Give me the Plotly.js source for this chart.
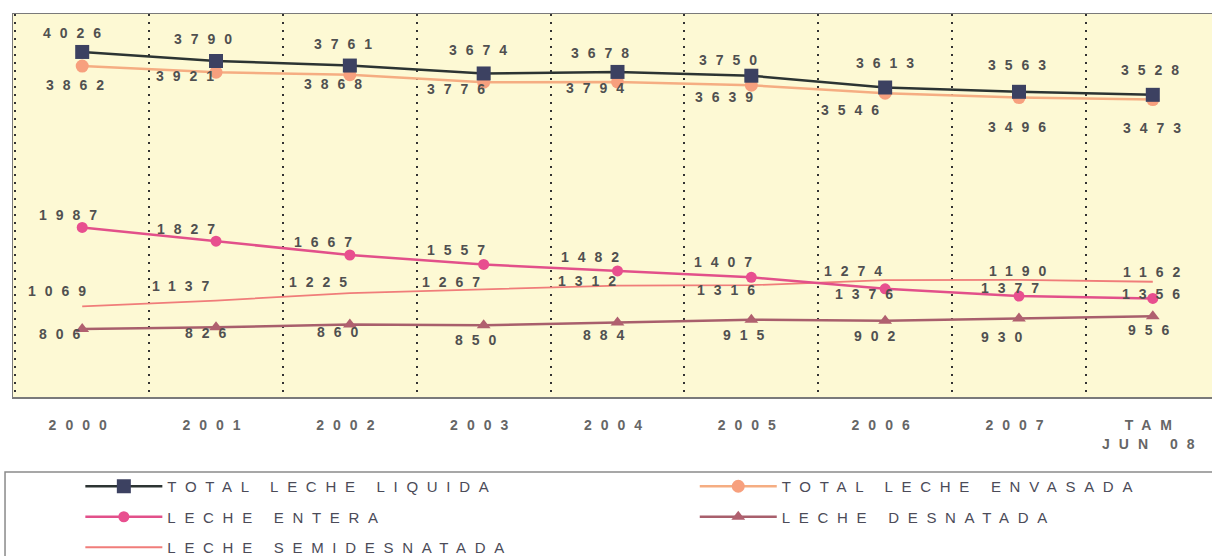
<!DOCTYPE html>
<html>
<head>
<meta charset="utf-8">
<script src="https://cdn.plot.ly/plotly-3.0.1.min.js"></script>
<style>
  body { margin: 0; overflow: hidden; background: #ffffff; }
  #plot { width: 1230px; height: 556px; }
  .annotation-text { letter-spacing: 9px; }
  .xtick text { letter-spacing: 9px; }
  .legendtext, .legend2text { letter-spacing: 8.7px; }
</style>
</head>
<body>
<div id="plot"></div>
<script>
// categories
var years = ['2000', '2001', '2002', '2003', '2004', '2005', '2006', '2007', 'TAM<br>JUN 08'];

// series values
var totalLiquida = [4026, 3921, 3868, 3776, 3794, 3750, 3613, 3563, 3528];
var totalEnvasada = [3862, 3790, 3761, 3674, 3678, 3639, 3546, 3496, 3473];
var lecheEntera = [1987, 1827, 1667, 1557, 1482, 1407, 1274, 1190, 1162];
var lecheSemi = [1069, 1137, 1225, 1267, 1312, 1316, 1376, 1377, 1356];
var lecheDesnatada = [806, 826, 860, 850, 884, 915, 902, 930, 956];

// label offsets (px) from each point
var offTotal = {x: [-10, -31, -16, -27, -22, -23, 0, -1, -2], y: [19, -15, -18, -16, -16, 16, 25, 27, 25]};
var offEnvasada = {x: [-7, -13, -6, -5, -17, -27, -35, -1, 0], y: [-19, 33, 31, 32, 29, -12, -17, -29, -28]};
var offEntera = {x: [-14, -30, -26, -27, -27, -28, -32, -1, -1], y: [12, 12, 13, 14, 14, 15, 18, 25, 26]};
var offSemi = {x: [-25, -35, -31, -32, -30, -25, -21, -8, -1], y: [15, 15, 11, 7, 5, -5, -14, -8, -12]};
var offDesnatada = {x: [-22, -10, -12, -8, -14, -7, -10, -17, -4], y: [-5, -6, -8, -15, -13, -15, -15, -19, -14]};

var labelFont = {family: 'Liberation Sans, Arial, sans-serif', size: 14, color: '#505050', weight: 'bold'};

function makeLabels(values, off) {
    return values.map(function (v, i) {
        return {
            x: i, y: v, xref: 'x', yref: 'y',
            text: String(v), showarrow: false,
            xshift: off.x[i] + 4, yshift: off.y[i],
            font: labelFont
        };
    });
}

// Trace 1 total leche liquida
var trace1 = {
    x: years, y: totalLiquida, name: 'TOTAL LECHE LIQUIDA',
    type: 'scatter', mode: 'lines+markers',
    line: {color: '#2c3433', width: 2.5},
    marker: {symbol: 'square', size: 14, color: '#3c4161'},
    legend: 'legend', legendgroup: 'g1', legendrank: 1
};

// Trace 2 total leche envasada
var trace2 = {
    x: years, y: totalEnvasada, name: 'TOTAL LECHE ENVASADA',
    type: 'scatter', mode: 'lines+markers',
    line: {color: '#f5ad82', width: 2.5},
    marker: {symbol: 'circle', size: 13, color: '#f7a07e'},
    legend: 'legend2', legendgroup: 'g2', legendrank: 1
};

// Trace 3 leche entera
var trace3 = {
    x: years, y: lecheEntera, name: 'LECHE ENTERA',
    type: 'scatter', mode: 'lines+markers',
    line: {color: '#e2508a', width: 2.5},
    marker: {symbol: 'circle', size: 11, color: '#e84f8f'},
    legend: 'legend', legendgroup: 'g3', legendrank: 2
};

// Trace 4 leche desnatada
var trace4 = {
    x: years, y: lecheDesnatada, name: 'LECHE DESNATADA',
    type: 'scatter', mode: 'lines+markers',
    line: {color: '#a85f6c', width: 2.5},
    marker: {symbol: 'triangle-up', size: 12, color: '#b0606f'},
    legend: 'legend2', legendgroup: 'g4', legendrank: 2
};

// Trace 5 leche semidesnatada
var trace5 = {
    x: years, y: lecheSemi, name: 'LECHE SEMIDESNATADA',
    type: 'scatter', mode: 'lines',
    line: {color: '#f07d7a', width: 1.8},
    legend: 'legend', legendgroup: 'g5', legendrank: 3
};

var data = [trace5, trace4, trace3, trace2, trace1];

var annotations = []
    .concat(makeLabels(totalLiquida, offTotal))
    .concat(makeLabels(totalEnvasada, offEnvasada))
    .concat(makeLabels(lecheEntera, offEntera))
    .concat(makeLabels(lecheSemi, offSemi))
    .concat(makeLabels(lecheDesnatada, offDesnatada));

var legendFont = {family: 'Liberation Sans, Arial, sans-serif', size: 15, color: '#4b4b58'};

var layout = {
    width: 1230,
    height: 556,
    margin: {t: 14, l: 13, r: 8, b: 159, autoexpand: false},
    paper_bgcolor: '#ffffff',
    plot_bgcolor: '#fdf9d4',
    showlegend: true,
    xaxis: {
        type: 'category',
        automargin: false,
        tickson: 'boundaries',
        showgrid: true, gridcolor: '#333333', griddash: '2px,6px', gridwidth: 2,
        showline: true, mirror: true, linecolor: '#7a7a7a', linewidth: 1.5,
        ticks: '', ticklabelstandoff: 15,
        tickfont: {family: 'Liberation Sans, Arial, sans-serif', size: 14, color: '#666666', weight: 'bold'}
    },
    yaxis: {
        range: [17, 4467],
        automargin: false,
        showgrid: false, zeroline: false, showticklabels: false, ticks: '',
        showline: true, mirror: true, linecolor: '#7a7a7a', linewidth: 1.5
    },
    legend: {
        x: 0.0557, xanchor: 'left', y: -0.1906, yanchor: 'top',
        orientation: 'v', traceorder: 'grouped', tracegroupgap: 8,
        itemwidth: 77, font: legendFont, bgcolor: 'rgba(0,0,0,0)'
    },
    legend2: {
        x: 0.5639, xanchor: 'left', y: -0.1906, yanchor: 'top',
        orientation: 'v', traceorder: 'grouped', tracegroupgap: 8,
        itemwidth: 77, font: legendFont, bgcolor: 'rgba(0,0,0,0)'
    },
    shapes: [{
        type: 'rect', xref: 'paper', yref: 'paper',
        x0: -0.0066, x1: 1.0, y0: -0.196, y1: -0.6,
        line: {color: '#8a8a8a', width: 1.5}
    }],
    annotations: annotations
};

Plotly.newPlot('plot', data, layout, {displayModeBar: false, staticPlot: true});
</script>
</body>
</html>
